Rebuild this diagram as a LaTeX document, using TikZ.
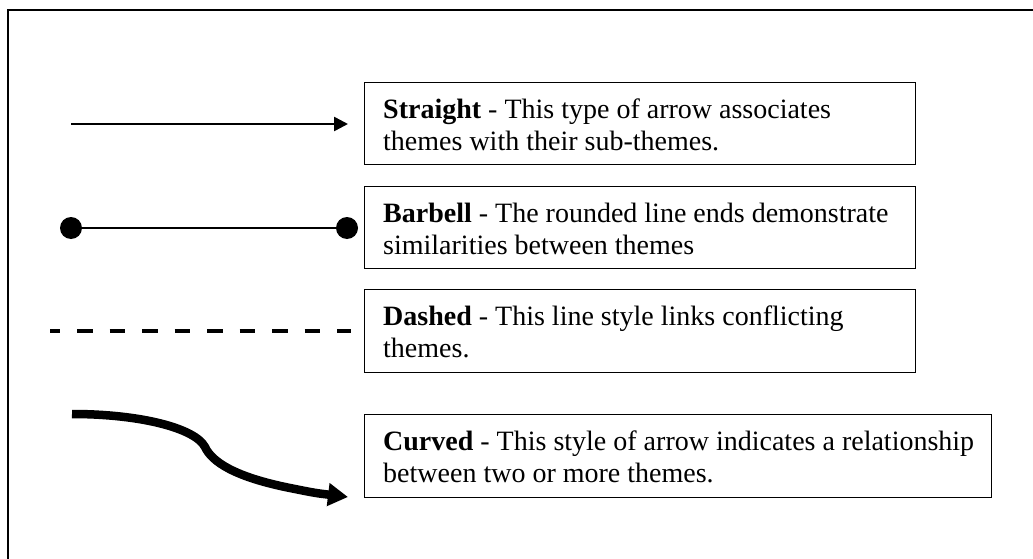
\documentclass[tikz,border=0pt]{standalone}
\usepackage{fontspec}
\setmainfont{Liberation Serif}
\usetikzlibrary{arrows.meta}

\begin{document}
\begin{tikzpicture}[x=1pt, y=-1pt,
  legendbox/.style={draw=black, line width=1.4pt, rectangle, inner sep=0pt, anchor=north west},
  legendtext/.style={anchor=west, align=left, inner sep=0pt,
    font=\fontsize{28}{32}\selectfont},
  frameline/.style={line width=1.5pt},
  straightline/.style={line width=2.6pt, -{Triangle[length=14pt, width=14pt]}},
  barbellline/.style={line width=2pt},
  dashedline/.style={line width=4.2pt, dash pattern=on 15.5pt off 17pt, dash phase=5.5pt},
  curvedline/.style={line width=8.5pt, -{Triangle[length=20pt, width=22pt]}}
]
\useasboundingbox (0,0) rectangle (1033,559);

% outer frame (open to the right and bottom)
\draw[frameline] (8,559) -- (8,10) -- (1033,10);

% legend boxes
\node[legendbox, minimum width=551pt, minimum height=82pt] (sbox) at (364,82) {};
\node[legendbox, minimum width=551pt, minimum height=82pt] (bbox) at (364,186) {};
\node[legendbox, minimum width=551pt, minimum height=83pt] (dbox) at (364,289) {};
\node[legendbox, minimum width=627pt, minimum height=83pt] (cbox) at (364,414) {};

\node[legendtext] (stext) at ([xshift=19pt, yshift=-1pt]sbox.west)
  {\textbf{Straight} - This type of arrow associates\\themes with their sub-themes.};
\node[legendtext] (btext) at ([xshift=19pt, yshift=-1pt]bbox.west)
  {\textbf{Barbell} - The rounded line ends demonstrate\\similarities between themes};
\node[legendtext] (dtext) at ([xshift=19pt, yshift=-1pt]dbox.west)
  {\textbf{Dashed} - This line style links conflicting\\themes.};
\node[legendtext] (ctext) at ([xshift=19pt, yshift=-1pt]cbox.west)
  {\textbf{Curved} - This style of arrow indicates a relationship\\between two or more themes.};

% line samples
\coordinate (s1) at (71,124);
\coordinate (s2) at (348,124);
\draw[straightline] (s1) -- (s2);

\coordinate (b1) at (71,228);
\coordinate (b2) at (347,228);
\draw[barbellline] (b1) -- (b2);
\fill (b1) circle[radius=11pt];
\fill (b2) circle[radius=11pt];

\coordinate (d1) at (50,331);
\coordinate (d2) at (351,331);
\draw[dashedline] (d1) -- (d2);

\coordinate (c1) at (72,414);
\coordinate (c2) at (205,447);
\coordinate (c3) at (290,488);
\coordinate (c4) at (348,497);
\draw[curvedline] (c1) .. controls (140,414) and (195,428) .. (c2)
  .. controls (212,462) and (235,477) .. (c3)
  .. controls (315,493) .. (c4);
\end{tikzpicture}
\end{document}
